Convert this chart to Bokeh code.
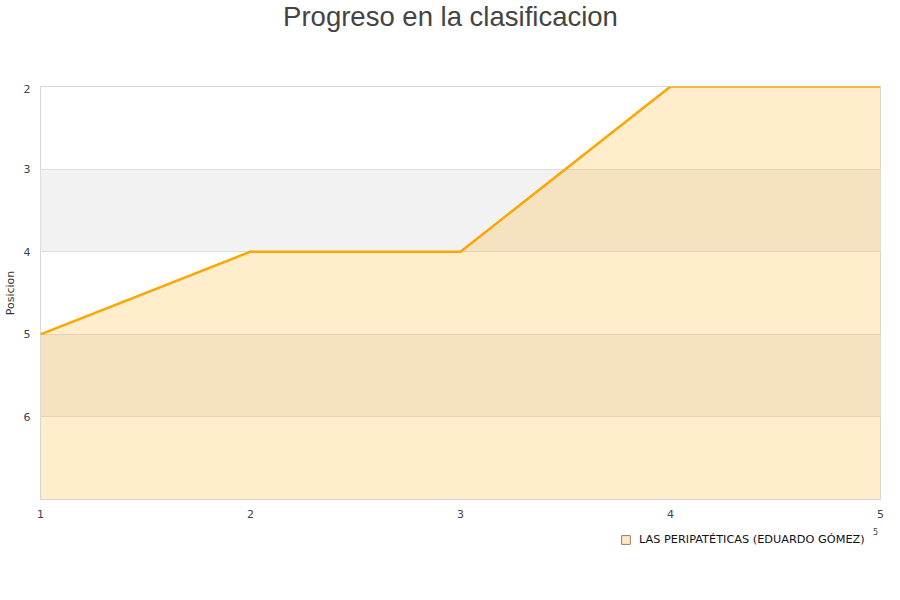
from bokeh.plotting import figure
from bokeh.layouts import column
from bokeh.models import (Range1d, FixedTicker, Label, Legend, LegendItem,
                          ColumnDataSource)
from bokeh.embed import file_html
from bokeh.resources import INLINE

# datos
jornadas = [1, 2, 3, 4, 5]
posiciones = [5, 4, 4, 2, 2]
equipo = "LAS PERIPATÉTICAS (EDUARDO GÓMEZ)"
y_ticks = [2, 3, 4, 5, 6]
pos_top, pos_bottom = 2, 7
titulo = "Progreso en la clasificacion"


def caja(height):
    # figura auxiliar sin ejes, en pixeles de pantalla (marco 40..880)
    f = figure(width=900, height=height, output_backend="svg",
               toolbar_location=None, x_range=Range1d(40, 880),
               y_range=Range1d(height, 0), min_border=0)
    f.axis.visible = False
    f.grid.visible = False
    f.outline_line_color = None
    f.background_fill_color = "white"
    f.border_fill_color = "white"
    return f


# titulo
pt = caja(84)
pt.add_layout(Label(x=450, y=16, text=titulo, text_align="center",
                    text_baseline="alphabetic", text_font="Liberation Sans",
                    text_font_size="27.5px", text_color="#444444"))

# grafico principal
p = figure(width=900, height=436, output_backend="svg", toolbar_location=None,
           x_range=Range1d(jornadas[0], jornadas[-1]),
           y_range=Range1d(pos_bottom, pos_top),
           min_border_left=40, min_border_right=20,
           min_border_top=2, min_border_bottom=20)

p.background_fill_color = "white"
p.border_fill_color = "white"
p.outline_line_color = "#d8d8d8"

p.xgrid.visible = False
p.ygrid.grid_line_color = "#dedede"
p.ygrid.band_fill_color = "#f2f2f2"
p.ygrid.band_fill_alpha = 1.0

p.xaxis.ticker = FixedTicker(ticks=jornadas)
p.yaxis.ticker = FixedTicker(ticks=y_ticks)
for ax in (p.xaxis, p.yaxis):
    ax.axis_line_color = None
    ax.major_tick_line_color = None
    ax.minor_tick_line_color = None
    ax.major_label_text_font = "DejaVu Sans"
    ax.major_label_text_font_size = "11px"
    ax.major_label_text_color = "#444444"
p.xaxis.major_label_standoff = 4
p.yaxis.major_label_standoff = 4

p.yaxis.axis_label = "Posicion"
p.yaxis.axis_label_text_font = "DejaVu Sans"
p.yaxis.axis_label_text_font_size = "11px"
p.yaxis.axis_label_text_font_style = "normal"
p.yaxis.axis_label_text_color = "#333333"
p.yaxis.axis_label_standoff = 4

src = ColumnDataSource(dict(x=jornadas, y=posiciones))
p.varea(x="x", y1="y", y2=pos_bottom, source=src,
        fill_color="#FFA500", fill_alpha=0.2)
p.line(x="x", y="y", source=src, line_color="#FFA500", line_width=2.5)

# leyenda
pl = caja(80)
nan = float("nan")
proxy = pl.quad(left=[nan], right=[nan], top=[nan], bottom=[nan],
                fill_color="#FFE9C4", line_color="#9a8060")
legend = Legend(items=[LegendItem(label=equipo, renderers=[proxy])],
                location=(580, 54), padding=0, margin=0, spacing=0,
                glyph_width=11, glyph_height=11, label_standoff=8,
                background_fill_alpha=0, border_line_color=None,
                label_text_font="DejaVu Sans", label_text_font_size="11.3px",
                label_text_color="#111111")
pl.add_layout(legend)
pl.add_layout(Label(x=875, y=11, text="5", text_align="center",
                    text_baseline="middle", text_font="DejaVu Sans",
                    text_font_size="8px", text_color="#444444"))

open("out.html", "w").write(file_html(column(pt, p, pl), INLINE))
